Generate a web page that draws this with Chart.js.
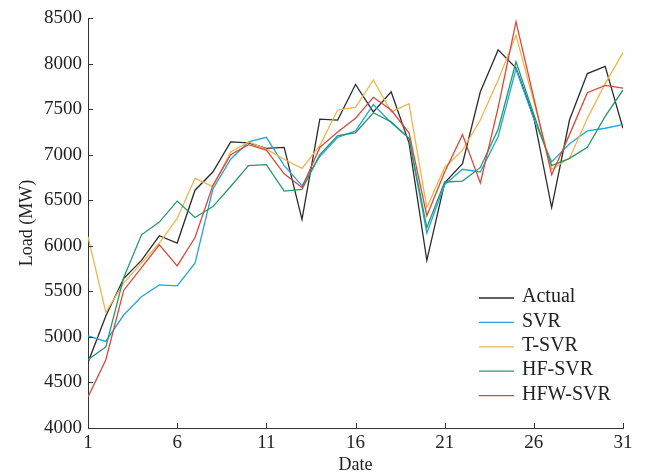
<!DOCTYPE html>
<html>
<head>
<meta charset="utf-8">
<script src="https://cdn.jsdelivr.net/npm/chart.js@4.4.1/dist/chart.umd.min.js"></script>
<style>
  body { margin: 0; background: #fff; }
  canvas { display: block; }
</style>
</head>
<body>
<canvas id="loadChart" width="646" height="476"></canvas>
<script>
// daily load, actual vs forecasts (MW)
const days = Array.from({ length: 31 }, (_, i) => i + 1);
const dateTicks = [1, 6, 11, 16, 21, 26, 31];
const loadTicks = [4000, 4500, 5000, 5500, 6000, 6500, 7000, 7500, 8000, 8500];

const seriesNames = ["Actual", "SVR", "T-SVR", "HF-SVR", "HFW-SVR"];
const seriesColors = ["#2b2b2b", "#22a6dc", "#f0b54a", "#23996c", "#d9483b"];

const actual = [4720, 5230, 5640, 5840, 6110, 6030, 6610, 6810, 7140, 7130, 7070, 7080, 6290, 7390, 7380, 7770, 7470, 7690, 7130, 5840, 6690, 6900, 7690, 8150, 7950, 7410, 6420, 7380, 7890, 7970, 7290];
const svr = [5010, 4950, 5240, 5440, 5570, 5560, 5810, 6620, 6950, 7140, 7190, 6880, 6660, 6980, 7190, 7260, 7550, 7350, 7180, 6140, 6670, 6840, 6810, 7200, 7940, 7390, 6920, 7120, 7260, 7290, 7330];
const tsvr = [6100, 5270, 5590, 5810, 6030, 6300, 6740, 6650, 7030, 7140, 7060, 6950, 6850, 7100, 7490, 7520, 7820, 7470, 7560, 6420, 6860, 7050, 7380, 7820, 8310, 7580, 6840, 6960, 7400, 7780, 8120];
const hfsvr = [4750, 4890, 5650, 6120, 6260, 6490, 6310, 6430, 6650, 6880, 6890, 6600, 6620, 7000, 7210, 7240, 7460, 7360, 7180, 6200, 6700, 6710, 6860, 7280, 8020, 7440, 6880, 6960, 7080, 7420, 7710];
const hfwsvr = [4340, 4750, 5510, 5760, 6010, 5780, 6090, 6660, 7000, 7110, 7050, 6790, 6640, 7080, 7250, 7400, 7630, 7490, 7240, 6330, 6810, 7220, 6690, 7520, 8460, 7620, 6780, 7220, 7680, 7760, 7730];

const allSeries = [actual, svr, tsvr, hfsvr, hfwsvr];
const serif = "'Liberation Serif', 'Times New Roman', serif";

const datasets = allSeries.map((vals, i) => ({
  label: seriesNames[i],
  data: vals.map((v, j) => ({ x: days[j], y: v })),
  borderColor: seriesColors[i],
  borderWidth: 1.3,
  pointRadius: 0,
  tension: 0,
  fill: false,
  order: allSeries.length - i // later series drawn on top, like matlab
}));

// tick marks pointing into the plot
const inwardTicks = {
  id: "inwardTicks",
  afterDraw(chart) {
    const { ctx, chartArea, scales } = chart;
    ctx.save();
    ctx.strokeStyle = "#333";
    ctx.lineWidth = 1;
    ctx.beginPath();
    scales.x.ticks.forEach(t => {
      const px = Math.round(scales.x.getPixelForValue(t.value)) + 0.5;
      ctx.moveTo(px, chartArea.bottom);
      ctx.lineTo(px, chartArea.bottom - 5);
    });
    scales.y.ticks.forEach(t => {
      const py = Math.round(scales.y.getPixelForValue(t.value)) + 0.5;
      ctx.moveTo(chartArea.left, py);
      ctx.lineTo(chartArea.left + 5, py);
    });
    ctx.stroke();
    ctx.restore();
  }
};

// legend box inside the plot, bottom right
const innerLegend = {
  id: "innerLegend",
  afterDraw(chart) {
    const { ctx } = chart;
    ctx.save();
    ctx.font = "20px " + serif;
    ctx.textBaseline = "middle";
    ctx.fillStyle = "#222";
    seriesNames.forEach((name, i) => {
      const y = 297 + i * 24.4;
      ctx.strokeStyle = seriesColors[i];
      ctx.lineWidth = 1.3;
      ctx.beginPath();
      ctx.moveTo(479, y + 1);
      ctx.lineTo(514, y + 1);
      ctx.stroke();
      ctx.fillText(name, 522, y);
    });
    ctx.restore();
  }
};

new Chart(document.getElementById("loadChart"), {
  type: "line",
  data: { datasets: datasets },
  plugins: [inwardTicks, innerLegend],
  options: {
    responsive: false,
    animation: false,
    devicePixelRatio: 1,
    layout: { padding: { left: 0, right: 23, top: 18, bottom: 0 } },
    plugins: {
      legend: { display: false },
      tooltip: { enabled: false }
    },
    scales: {
      x: {
        type: "linear",
        min: 1,
        max: 31,
        afterBuildTicks: scale => { scale.ticks = dateTicks.map(v => ({ value: v })); },
        afterFit: scale => { scale.height = 48; },
        grid: { display: false, drawTicks: false },
        border: { display: true, color: "#333", width: 1 },
        ticks: {
          autoSkip: false,
          maxRotation: 0,
          padding: 4,
          color: "#222",
          font: { family: serif, size: 19 },
          callback: v => String(v)
        },
        title: {
          display: true,
          text: "Date",
          color: "#222",
          font: { family: serif, size: 18 },
          padding: { top: 0, bottom: 0 }
        }
      },
      y: {
        min: 4000,
        max: 8500,
        afterBuildTicks: scale => { scale.ticks = loadTicks.map(v => ({ value: v })); },
        afterFit: scale => { scale.width = 88; },
        grid: { display: false, drawTicks: false },
        border: { display: true, color: "#333", width: 1 },
        ticks: {
          padding: 6,
          color: "#222",
          font: { family: serif, size: 19 },
          callback: v => String(v)
        },
        title: {
          display: true,
          text: "Load (MW)",
          color: "#222",
          font: { family: serif, size: 18 },
          padding: { top: 16, bottom: 0 }
        }
      }
    }
  }
});
</script>
</body>
</html>
